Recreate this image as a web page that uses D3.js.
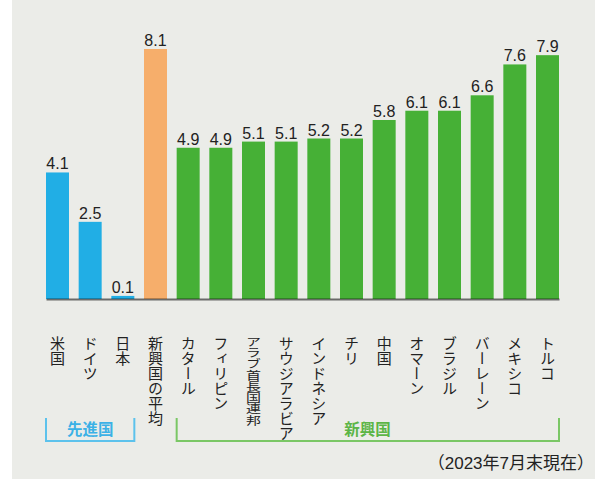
<!DOCTYPE html>
<html>
<head>
<meta charset="utf-8">
<script src="https://cdn.jsdelivr.net/npm/d3@7"></script>
<style>
  body { margin: 0; background: #fff; }
  svg { display: block; font-family: "Noto Sans CJK JP", sans-serif; }
  .value { font-family: "Liberation Sans", "Noto Sans", sans-serif; font-size: 16px; fill: #222; }
  .cat { font-size: 15px; fill: #222; writing-mode: vertical-rl; }
</style>
</head>
<body>
<div id="plot-area"></div>
<script>
// Policy rate comparison bar chart

const countries = ["米国", "ドイツ", "日本", "新興国の平均", "カタール", "フィリピン",
  "アラブ首長国連邦", "サウジアラビア", "インドネシア", "チリ", "中国", "オマーン",
  "ブラジル", "バーレーン", "メキシコ", "トルコ"];
const values = [4.1, 2.5, 0.1, 8.1, 4.9, 4.9, 5.1, 5.1, 5.2, 5.2, 5.8, 6.1, 6.1, 6.6, 7.6, 7.9];
const groups = ["dev", "dev", "dev", "avg", "em", "em", "em", "em", "em", "em", "em", "em",
  "em", "em", "em", "em"];
const groupNames = ["先進国", "新興国"];
const note = "（2023年7月末現在）";

const svg = d3.select("#plot-area").
append("svg").
attr("width", 602).
attr("height", 479);

const h = +svg.attr("height");

// Panel background
svg.append("rect").
attr("x", 12).
attr("y", 0).
attr("width", 583).
attr("height", h).
attr("fill", "#ebece8");

const df = countries.map((c, i) => ({ name: c, value: values[i], group: groups[i] }));

// Scales
const xScale = d3.scaleBand().
domain(countries).
range([46, 559]).
paddingInner(0.296).
paddingOuter(0);

const yScale = d3.scaleLinear().
domain([0, 8.1]).
range([299, 49]);

const colorScale = d3.scaleOrdinal().
domain(["dev", "avg", "em"]).
range(["#21aee5", "#f6ae6b", "#46b036"]);

const mid = d => xScale(d) + xScale.bandwidth() / 2;

// Bars
svg.selectAll("rect.bar").
data(df).
join("rect").
attr("class", "bar").
attr("x", d => xScale(d.name)).
attr("y", d => yScale(d.value)).
attr("width", xScale.bandwidth()).
attr("height", d => yScale(0) - yScale(d.value)).
attr("fill", d => colorScale(d.group));

// Value labels
svg.selectAll("text.value").
data(df).
join("text").
attr("class", "value").
attr("x", d => mid(d.name)).
attr("y", d => yScale(d.value) - 3).
attr("text-anchor", "middle").
text(d => d.value.toFixed(1));

// Baseline
svg.append("g").
attr("transform", `translate(0 ${yScale(0)})`).
call(d3.axisBottom(xScale).tickSize(0).tickFormat("")).
select(".domain").
attr("stroke", "rgba(0,0,0,0.55)").
attr("stroke-width", 2);

// Category labels (vertical); the long one is squeezed to fit
svg.selectAll("text.cat").
data(df).
join("text").
attr("class", "cat").
attr("x", d => mid(d.name)).
attr("y", 336).
each(function (d) {
  if (d.name.length > 7) {
    d3.select(this).
    attr("textLength", 90).
    attr("lengthAdjust", "spacingAndGlyphs");
  }
}).
text(d => d.name);

// Group brackets
const brackets = [
  { name: groupNames[0], from: countries[0], to: countries[2], color: "#5cc2ec", text: "#3bb1e6", tx: mid(countries[1]) },
  { name: groupNames[1], from: countries[4], to: countries[15], color: "#7ac765", text: "#5cb546", tx: mid(countries[9]) + 16 }
];

brackets.forEach(b => {
  const x0 = xScale(b.from);
  const x1 = xScale(b.to) + xScale.bandwidth();
  svg.append("path").
  attr("d", `M${x0},418V441H${x1}V418`).
  attr("fill", "none").
  attr("stroke", b.color).
  attr("stroke-width", 2);

  svg.append("text").
  attr("x", b.tx).
  attr("y", 435).
  attr("text-anchor", "middle").
  attr("font-size", 15.5).
  attr("font-weight", 700).
  attr("fill", b.text).
  text(b.name);
});

// Note
svg.append("text").
attr("x", 594).
attr("y", 469).
attr("text-anchor", "end").
attr("font-family", "'Liberation Sans', 'Noto Sans CJK JP', sans-serif").
attr("font-size", 17).
attr("fill", "#222").
text(note);
</script>
</body>
</html>
